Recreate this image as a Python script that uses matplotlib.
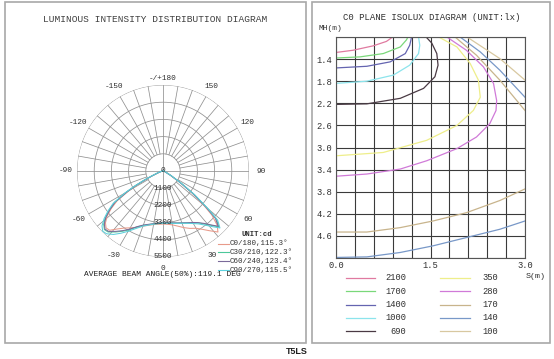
import numpy as np
import matplotlib
matplotlib.use('Agg')
import matplotlib.pyplot as plt
from matplotlib.lines import Line2D
from matplotlib.patches import Rectangle

W, H = 554, 359
MONO = 'Liberation Mono'

# ---- polar (luminous intensity) data ----
ANGLES = [-90, -80, -70, -66, -64, -62, -60, -57, -54, -51, -48, -45, -42, -38, -34, -30,
          -25, -20, -15, -10, -5, 0, 5, 10, 15, 20, 25, 30, 34, 38, 42, 45, 48, 50, 53,
          56, 60, 70, 80, 90]
C0_180 = [0, 80, 300, 700, 1200, 1800, 2500, 3500, 4100, 4600, 4950, 5150, 5100, 4700, 4400,
          4200, 3980, 3750, 3600, 3480, 3420, 3390, 3420, 3500, 3650, 3850, 4050, 4230, 4500,
          4850, 5250, 4900, 4200, 3400, 2300, 1300, 550, 130, 30, 0]
C30_210 = [0, 100, 350, 800, 1300, 2000, 2700, 3700, 4250, 4750, 5100, 5300, 5250, 4950, 4650,
           4350, 3950, 3700, 3550, 3430, 3370, 3330, 3340, 3380, 3450, 3540, 3660, 3830, 4000,
           4300, 4700, 5050, 4600, 3700, 2500, 1400, 600, 150, 40, 0]
C60_240 = [0, 90, 330, 760, 1250, 1950, 2650, 3650, 4200, 4700, 5050, 5250, 5200, 4900, 4600,
           4300, 3930, 3680, 3530, 3420, 3360, 3320, 3330, 3370, 3440, 3530, 3650, 3800, 3980,
           4250, 4650, 5000, 4500, 3600, 2400, 1350, 580, 140, 35, 0]
C90_270 = [0, 110, 380, 850, 1350, 2050, 2800, 3800, 4350, 4850, 5250, 5450, 5400, 5150, 4800,
           4450, 4050, 3750, 3580, 3450, 3380, 3330, 3350, 3400, 3470, 3560, 3690, 3880, 4080,
           4400, 4800, 5150, 4700, 3750, 2550, 1450, 620, 160, 40, 0]
PLANES = [C0_180, C30_210, C60_240, C90_270]
PLANE_LABELS = ['C0/180,115.3\u00b0', 'C30/210,122.3\u00b0', 'C60/240,123.4\u00b0', 'C90/270,115.5\u00b0']
PLANE_COLORS = ['#e89a8a', '#4cc89a', '#7a6a9a', '#5cd0dc']
RINGS = [1100, 2200, 3300, 4400, 5500]
ANGLE_TICKS = [180, 150, -150, 120, -120, 90, -90, 60, -60, 30, -30, 0]

# ---- isolux data (S, MH) ----
ISO_LEVELS = ['2100', '1700', '1400', '1000', '690', '350', '280', '170', '140', '100']
ISO_COLORS = ['#e07aa0', '#7ad87a', '#6464b0', '#8ce4ec', '#4a3a44',
              '#eeee8a', '#d07ad8', '#c8b48c', '#7898c8', '#d8c8a0']
S_2100 = [0.0, 0.27, 0.59, 0.80, 0.90]
MH_2100 = [1.28, 1.24, 1.16, 1.08, 1.0]
S_1700 = [0.0, 0.38, 0.75, 1.02, 1.12, 1.14]
MH_1700 = [1.38, 1.36, 1.30, 1.18, 1.05, 1.0]
S_1400 = [0.0, 0.49, 0.86, 1.10, 1.17, 1.20]
MH_1400 = [1.56, 1.53, 1.45, 1.30, 1.15, 1.0]
S_1000 = [0.0, 0.49, 0.91, 1.17, 1.31, 1.33, 1.31]
MH_1000 = [1.84, 1.80, 1.69, 1.51, 1.30, 1.15, 1.0]
S_690 = [0.0, 0.49, 1.02, 1.39, 1.57, 1.62, 1.60, 1.52, 1.43]
MH_690 = [2.22, 2.21, 2.11, 1.93, 1.72, 1.51, 1.30, 1.11, 1.0]
S_350 = [0.0, 0.75, 1.44, 1.92, 2.18, 2.29, 2.26, 2.13, 1.92, 1.63]
MH_350 = [3.15, 3.09, 2.87, 2.60, 2.33, 2.09, 1.78, 1.48, 1.18, 1.0]
S_280 = [0.0, 0.49, 1.02, 1.44, 1.92, 2.23, 2.44, 2.54, 2.55, 2.50, 2.34, 2.07, 1.76]
MH_280 = [3.52, 3.48, 3.39, 3.24, 3.02, 2.81, 2.57, 2.33, 2.15, 1.84, 1.54, 1.24, 1.0]
S_170_LOW = [0.0, 0.49, 1.02, 1.54, 2.07, 2.60, 3.0]
MH_170_LOW = [4.53, 4.53, 4.45, 4.33, 4.18, 3.96, 3.75]
S_170_UP = [1.89, 2.23, 2.60, 3.0]
MH_170_UP = [1.0, 1.33, 1.78, 2.33]
S_140_LOW = [0.0, 0.49, 1.02, 1.54, 2.07, 2.60, 3.0]
MH_140_LOW = [4.99, 4.98, 4.90, 4.78, 4.63, 4.48, 4.33]
S_140_UP = [1.97, 2.29, 2.60, 3.0]
MH_140_UP = [1.0, 1.27, 1.60, 2.09]
S_100_UP = [2.08, 2.60, 3.0]
MH_100_UP = [1.0, 1.39, 1.78]
ISO_LINES = [
    ('2100', S_2100, MH_2100), ('1700', S_1700, MH_1700), ('1400', S_1400, MH_1400),
    ('1000', S_1000, MH_1000), ('690', S_690, MH_690), ('350', S_350, MH_350),
    ('280', S_280, MH_280), ('170', S_170_LOW, MH_170_LOW), ('170', S_170_UP, MH_170_UP),
    ('140', S_140_LOW, MH_140_LOW), ('140', S_140_UP, MH_140_UP), ('100', S_100_UP, MH_100_UP),
]


def fx(x):
    return x / W


def fy(y):
    return 1 - y / H


fig = plt.figure(figsize=(W / 100, H / 100), dpi=100)

# frames
for x0, y0, x1, y1 in [(5, 2, 306, 343), (312, 2, 550, 343)]:
    fig.add_artist(Rectangle((fx(x0), fy(y1)), fx(x1) - fx(x0), fy(y0) - fy(y1),
                             transform=fig.transFigure, fill=False, ec='#a8a8a8', lw=1.2))

fig.text(fx(155), fy(19), 'LUMINOUS INTENSITY DISTRIBUTION DIAGRAM', family=MONO,
         fontsize=6.8, ha='center', va='center', color='#404040')

# ---- polar diagram ----
cx, cy, R = 163, 171, 86
ax = fig.add_axes([fx(cx - R), fy(cy + R), 2 * R / W, 2 * R / H], projection='polar')
ax.set_theta_zero_location('S')
ax.set_theta_direction(1)
ax.set_ylim(0, 5500)
ax.grid(False)
ax.set_xticks([])
ax.set_yticks([])
ax.spines['polar'].set_visible(False)
ax.patch.set_alpha(0)

th = np.linspace(0, 2 * np.pi, 361)
for r in RINGS:
    ax.plot(th, np.full_like(th, r), color='#909090', lw=0.55)
for a in range(-180, 180, 10):
    r0 = 0 if a % 90 == 0 else RINGS[0]
    ax.plot([np.radians(a)] * 2, [r0, RINGS[-1]], color='#909090', lw=0.55)

for vals, col in zip(PLANES, PLANE_COLORS):
    ax.plot(np.radians(ANGLES), vals, color=col, lw=0.75)

for a in ANGLE_TICKS:
    lab = '-/+180' if a == 180 else str(a)
    rr = 5900 if a == 180 else 6250
    ax.text(np.radians(a), rr, lab, family=MONO, fontsize=5.6, ha='center', va='center',
            clip_on=False, color='#303030')
ax.text(0, 0, '0', family=MONO, fontsize=5.6, ha='center', va='center', color='#303030')
for r in RINGS:
    ax.text(0, r, str(r), family=MONO, fontsize=5.6, ha='center', va='center', color='#303030')

fig.text(fx(257), fy(235), 'UNIT:cd', family=MONO, fontsize=5.2, weight='bold',
         ha='center', va='center', color='#303030')
for i, (lab, col) in enumerate(zip(PLANE_LABELS, PLANE_COLORS)):
    yy = 243.5 + i * 8.9
    fig.add_artist(Line2D([fx(218), fx(229)], [fy(yy), fy(yy)], color=col, lw=0.8,
                          transform=fig.transFigure))
    fig.text(fx(230), fy(yy), lab, family=MONO, fontsize=5.4, ha='left', va='center',
             color='#303030')

fig.text(fx(162), fy(275), 'AVERAGE BEAM ANGLE(50%):119.1 DEG', family=MONO, fontsize=5.7,
         ha='center', va='center', color='#202020')

# ---- isolux diagram ----
fig.text(fx(432), fy(17), 'C0 PLANE ISOLUX DIAGRAM (UNIT:lx)', family=MONO, fontsize=6.5,
         ha='center', va='center', color='#303030')
ax2 = fig.add_axes([fx(336), fy(258), 189 / W, 221 / H])
ax2.set_xlim(0, 3)
ax2.set_ylim(5, 1)
xt = np.round(np.arange(0, 3.01, 0.3), 2)
ax2.set_xticks(xt)
ax2.set_xticklabels(['%.1f' % v if v in (0.0, 1.5, 3.0) else '' for v in xt])
yt = np.round(np.arange(1.0, 5.01, 0.4), 2)
ax2.set_yticks(yt)
ax2.set_yticklabels(['' if v in (1.0, 5.0) else '%.1f' % v for v in yt])
ax2.tick_params(length=0, labelsize=6.3, pad=2.5, colors='#303030')
for t in ax2.get_xticklabels() + ax2.get_yticklabels():
    t.set_family(MONO)
ax2.grid(color='#3a3a3a', lw=0.8)
for s in ax2.spines.values():
    s.set_color('#555555')
    s.set_linewidth(0.8)

col_of = dict(zip(ISO_LEVELS, ISO_COLORS))
for lev, s, mh in ISO_LINES:
    ax2.plot(s, mh, color=col_of[lev], lw=0.9)

fig.text(fx(318), fy(29), 'MH(m)', family=MONO, fontsize=5.8, ha='left', va='center',
         color='#303030')
fig.text(fx(536), fy(276), 'S(m)', family=MONO, fontsize=6.0, ha='center', va='center',
         color='#303030')

for i, (lev, col) in enumerate(zip(ISO_LEVELS, ISO_COLORS)):
    row = i % 5
    yy = 278 + row * 13.3
    if i < 5:
        x0, x1, tx, ha = 346, 375, 406, 'right'
    else:
        x0, x1, tx, ha = 440, 470, 482, 'left'
    fig.add_artist(Line2D([fx(x0), fx(x1)], [fy(yy), fy(yy)], color=col, lw=0.9,
                          transform=fig.transFigure))
    fig.text(fx(tx), fy(yy), lev, family=MONO, fontsize=6.3, ha=ha, va='center',
             color='#303030')

fig.text(fx(297), fy(352), 'T5LS', family='Liberation Sans', fontsize=6.5, weight='bold',
         ha='center', va='center', color='#202020')

fig.savefig('out.png', dpi=100)
